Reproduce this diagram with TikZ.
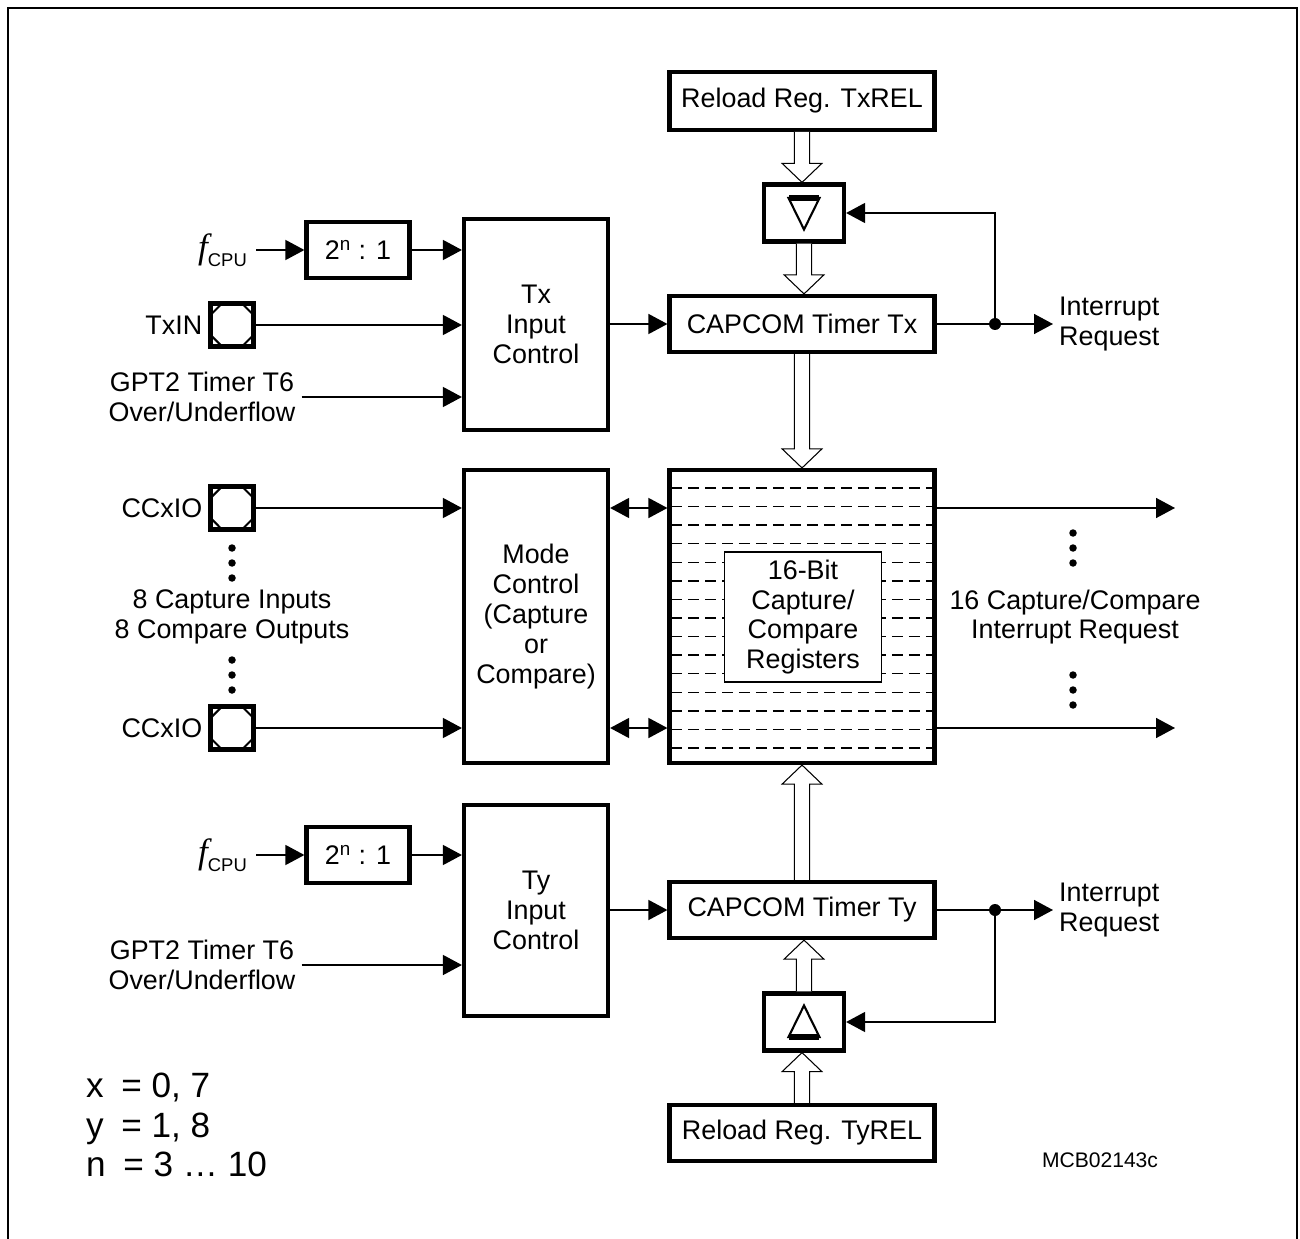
\documentclass[tikz,border=0pt]{standalone}
\usepackage{fontspec}
\setmainfont{Liberation Sans}
\newfontfamily\timesfont{Liberation Serif}
\usetikzlibrary{arrows.meta,positioning,calc}
\tikzset{blk/.style={draw, line width=2.4pt, inner sep=0pt, align=center},
  pin/.style={draw, line width=2.4pt, minimum size=0.86cm, inner sep=0pt, path picture={
    \draw[line width=1.2pt] ([yshift=-0.23cm]path picture bounding box.north west) -- ([xshift=0.23cm]path picture bounding box.north west);
    \draw[line width=1.2pt] ([yshift=-0.23cm]path picture bounding box.north east) -- ([xshift=-0.23cm]path picture bounding box.north east);
    \draw[line width=1.2pt] ([yshift=0.23cm]path picture bounding box.south west) -- ([xshift=0.23cm]path picture bounding box.south west);
    \draw[line width=1.2pt] ([yshift=0.23cm]path picture bounding box.south east) -- ([xshift=-0.23cm]path picture bounding box.south east);}},
  decbox/.style={blk, minimum width=1.6cm, minimum height=1.14cm, path picture={
    \begin{scope}[shift={(path picture bounding box.center)}]
      \draw[line width=1.2pt] (-0.31cm,0.3cm) -- (0.31cm,0.3cm) -- (0cm,-0.33cm) -- cycle;
      \draw[line width=3pt] (-0.3cm,0.3cm) -- (0.3cm,0.3cm);
    \end{scope}}},
  incbox/.style={blk, minimum width=1.6cm, minimum height=1.14cm, path picture={
    \begin{scope}[shift={(path picture bounding box.center)}]
      \draw[line width=1.2pt] (-0.31cm,-0.3cm) -- (0.31cm,-0.3cm) -- (0cm,0.33cm) -- cycle;
      \draw[line width=3pt] (-0.3cm,-0.3cm) -- (0.3cm,-0.3cm);
    \end{scope}}},
  sig/.style={line width=0.85pt, -{Triangle[length=3.8mm,width=4mm]}},
  bidir/.style={line width=0.85pt, {Triangle[length=3.8mm,width=4mm]}-{Triangle[length=3.8mm,width=4mm]}},
  bus/.style={line width=0.6pt, fill=white},
  regline/.style={line width=0.75pt, dash pattern=on 0.22cm off 0.12cm}}
\newcommand{\busarrow}[2]{%
  \draw[bus] let \p1=(#1), \p2=(#2), \n1={ifthenelse(\y2>\y1,10.8,-10.8)} in
    (\x1-4.3pt,\y1) -- ({\x1-4.3pt},{\y2-(\n1)*1pt}) -- ({\x1-11.3pt},{\y2-(\n1)*1pt})
    -- (\x1,\y2) -- ({\x1+11.3pt},{\y2-(\n1)*1pt}) -- ({\x1+4.3pt},{\y2-(\n1)*1pt}) -- (\x1+4.3pt,\y1);}
\newcommand{\fcpu}{{\fontsize{20}{20}\timesfont\itshape f}\raisebox{-0.3em}{\fontsize{10.5}{11}\selectfont CPU}}

\begin{document}
\begin{tikzpicture}[x=0.02cm, y=-0.02cm, font=\fontsize{15.3}{17}\selectfont]
  \useasboundingbox (0,0) rectangle (1300,1239);
  % frame
  \draw[line width=1.4pt] (8,1239) -- (8,8) -- (1297,8) -- (1297,1239);

  % Tx part
  \node[blk, minimum width=5.3cm, minimum height=1.155cm] (txrel) at (802,101) {Reload Reg. TxREL};
  \node[decbox] (txdec) at (804,213) {};
  \node[blk, minimum width=5.3cm, minimum height=1.12cm] (txtimer) at (802,324) {CAPCOM Timer Tx};
  \node[blk, minimum width=2.88cm, minimum height=4.22cm] (txctl) at (536,324.5) {Tx\\Input\\Control};
  \node[blk, minimum width=2.06cm, minimum height=1.12cm] (txdiv) at (358,250) {2\textsuperscript{n} : 1};
  \node[anchor=east, inner sep=5pt] (txfcpu) at (256,250) {\fcpu};
  \node[pin] (txin) at (232,325) {};
  \node[left=0pt of txin] (txinlbl) {TxIN};
  \node[align=center] (txgpt) at (202,397) {GPT2 Timer T6\\Over/Underflow};
  \node[anchor=west, align=left] (txirq) at (1053,324) {Interrupt\\Request};
  \coordinate (txbranch) at (995,324);

  \draw[sig] (txfcpu.east) -- (txdiv.west);
  \draw[sig] (txdiv.east) -- (txctl.west |- txdiv.east);
  \draw[sig] (txin.east) -- (txctl.west |- txin.east);
  \draw[sig] (txgpt.east) -- (txctl.west |- txgpt.east);
  \draw[sig] (txctl.east |- txtimer.west) -- (txtimer.west);
  \draw[sig] (txtimer.east) -- (txirq.west);
  \draw[sig] (txbranch) |- (txdec.east);
  \fill (txbranch) circle (0.12cm);

  % capture/compare part
  \node[blk, minimum width=5.3cm, minimum height=5.86cm] (reg) at (802,616.5) {};
  \foreach \k in {0,...,14}
    \draw[regline] (671,{488+18.57*\k}) -- (934,{488+18.57*\k});
  \node[draw, fill=white, line width=0.8pt, minimum width=3.14cm, minimum height=2.6cm, align=center] (regtxt) at (803,617) {16-Bit\\Capture/\\Compare\\Registers};
  \node[blk, minimum width=2.88cm, minimum height=5.86cm] (mode) at (536,616.5) {Mode\\Control\\(Capture\\or\\Compare)};
  \node[pin] (ccin) at (232,508) {};
  \node[left=0pt of ccin] (ccinlbl) {CCxIO};
  \node[pin] (ccout) at (232,728) {};
  \node[left=0pt of ccout] (ccoutlbl) {CCxIO};
  \node[align=center] (cclbl) at (232,617) {8 Capture Inputs\\8 Compare Outputs};
  \node[align=center] (irqlbl) at (1075,617) {16 Capture/Compare\\Interrupt Request};
  \coordinate (outa) at (1175,508);
  \coordinate (outb) at (1175,728);

  \draw[sig] (ccin.east) -- (mode.west |- ccin.east);
  \draw[sig] (ccout.east) -- (mode.west |- ccout.east);
  \draw[bidir] (mode.east |- ccin.east) -- (reg.west |- ccin.east);
  \draw[bidir] (mode.east |- ccout.east) -- (reg.west |- ccout.east);
  \draw[sig] (reg.east |- outa) -- (outa);
  \draw[sig] (reg.east |- outb) -- (outb);
  \foreach \y in {548,563,578,660,675,690}
    \fill (232,\y) circle (0.075cm);
  \foreach \y in {533,548,563,675,690,705}
    \fill (1073,\y) circle (0.075cm);

  % Ty part
  \node[blk, minimum width=2.06cm, minimum height=1.12cm] (tydiv) at (358,855) {2\textsuperscript{n} : 1};
  \node[anchor=east, inner sep=5pt] (tyfcpu) at (256,855) {\fcpu};
  \node[blk, minimum width=2.88cm, minimum height=4.22cm] (tyctl) at (536,910.5) {Ty\\Input\\Control};
  \node[align=center] (tygpt) at (202,965) {GPT2 Timer T6\\Over/Underflow};
  \node[blk, minimum width=5.3cm, minimum height=1.12cm] (tytimer) at (802,910) {CAPCOM Timer Ty};
  \node[incbox] (tyinc) at (804,1022) {};
  \node[blk, minimum width=5.3cm, minimum height=1.12cm] (tyrel) at (802,1133) {Reload Reg. TyREL};
  \node[anchor=west, align=left] (tyirq) at (1053,910) {Interrupt\\Request};
  \coordinate (tybranch) at (995,910);

  \draw[sig] (tyfcpu.east) -- (tydiv.west);
  \draw[sig] (tydiv.east) -- (tyctl.west |- tydiv.east);
  \draw[sig] (tygpt.east) -- (tyctl.west |- tygpt.east);
  \draw[sig] (tyctl.east |- tytimer.west) -- (tytimer.west);
  \draw[sig] (tytimer.east) -- (tyirq.west);
  \draw[sig] (tybranch) |- (tyinc.east);
  \fill (tybranch) circle (0.12cm);

  % hollow bus arrows
  \busarrow{txrel.south}{txdec.north}
  \busarrow{txdec.south}{txtimer.north}
  \busarrow{txtimer.south}{reg.north}
  \busarrow{tytimer.north}{reg.south}
  \busarrow{tyinc.north}{tytimer.south}
  \busarrow{tyrel.north}{tyinc.south}

  % notes
  \node[anchor=west, align=left, font=\fontsize{20}{22.7}\selectfont] (note) at (80,1125) {x\enspace = 0, 7\\y\enspace = 1, 8\\n\enspace = 3 \dots{} 10};
  \node[font=\fontsize{12}{14}\selectfont] (figid) at (1100,1160) {MCB02143c};
\end{tikzpicture}
\end{document}
